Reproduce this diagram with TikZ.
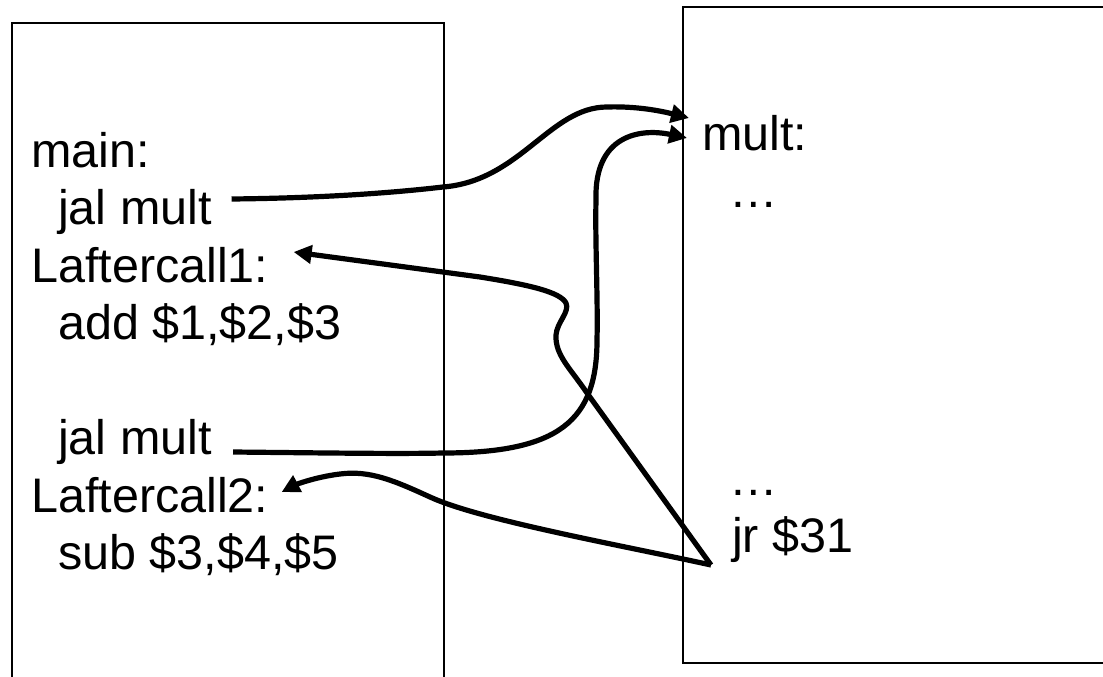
\documentclass[tikz,border=0pt]{standalone}
\usepackage{fontspec}
\setmainfont{Liberation Sans}
\usetikzlibrary{arrows.meta,calc}
\begin{document}
\begin{tikzpicture}[x=1pt,y=-1pt,
  frame/.style={line width=2pt},
  code/.style={anchor=base west,inner sep=0pt,font=\fontsize{48.5pt}{57.5pt}\selectfont},
  conn/.style={line width=5.2pt,line join=round,-{Triangle[length=18pt,width=18pt]}}]
\useasboundingbox (0,0) rectangle (1103,677);
\clip (0,0) rectangle (1103,677);
% frames
\draw[frame] (12,700) -- (12,23) -- (444,23) -- (444,700);
\draw[frame] (1120,7) -- (683,7) -- (683,663) -- (1120,663);
% left code
\node[code] (main) at (31,167) {main:};
\node[code] (jal1) at (58,224.5) {jal mult};
\node[code] (lc1)  at (31,282) {Laftercall1:};
\node[code] (add)  at (58,339.5) {add \$1,\$2,\$3};
\node[code] (jal2) at (58,454.5) {jal mult};
\node[code] (lc2)  at (31,512) {Laftercall2:};
\node[code] (sub)  at (58,569.5) {sub \$3,\$4,\$5};
% right code
\node[code] (mult) at (702,150) {mult:};
\node[code] (dots1) at (729,207.5) {…};
\node[code] (dots2) at (729,495) {…};
\node[code] (jr) at (732,552.5) {jr \$31};
% call 1
\draw[conn] ($(jal1.base east)+(19.5,-25.5)$) .. controls (330,198) and (400,192) .. (443,187)
  .. controls (520,181) and (550,107) .. (607,107)
  .. controls (640,106) and (665,112) .. ($(mult.base west)+(-13,-32)$);
% call 2
\draw[conn] ($(jal2.base east)+(21,-2.5)$) .. controls (330,453) and (400,454) .. (443,453)
  .. controls (560,453) and (597,420) .. (597,340)
  .. controls (598,300) and (595,240) .. (596,200)
  .. controls (594,135) and (640,128) .. ($(mult.base west)+(-15,-12)$);
% return 1
\draw[conn] ($(jr.base west)+(-21,12.5)$) -- (587,393)
  .. controls (570,368) and (555,355) .. (556,335)
  .. controls (557,322) and (570,312) .. (566,303)
  .. controls (560,292) and (530,285) .. (480,277)
  -- ($(lc1.base east)+(25,-30)$);
% return 2
\draw[conn] ($(jr.base west)+(-21,12.5)$) .. controls (620,545) and (480,520) .. (430,497)
  .. controls (395,481) and (370,470) .. (340,474)
  .. controls (315,477) and (295,485) .. ($(lc2.base east)+(13,-20)$);
\end{tikzpicture}
\end{document}
